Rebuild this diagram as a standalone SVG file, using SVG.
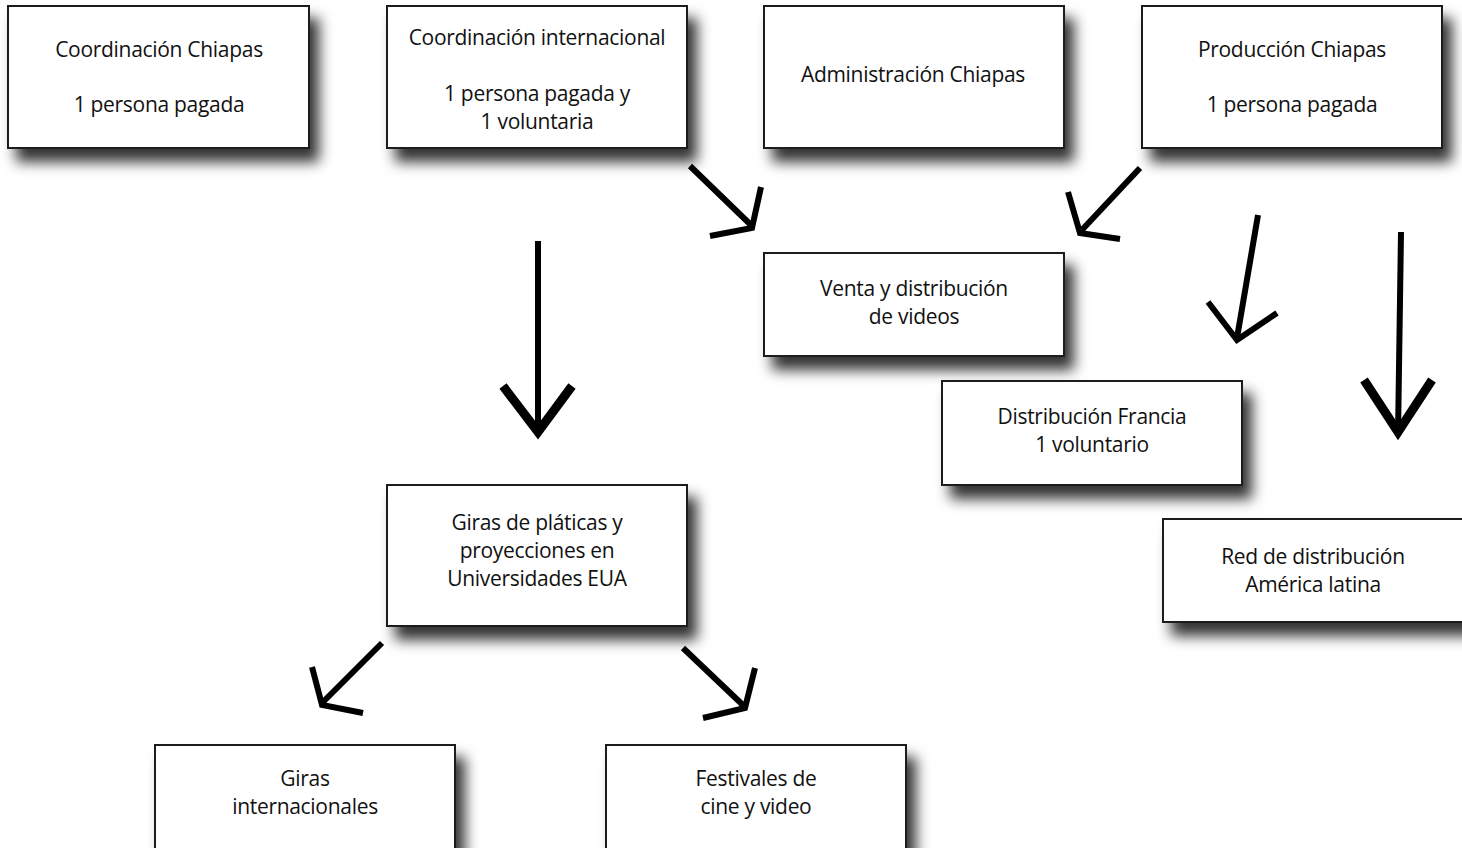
<svg xmlns="http://www.w3.org/2000/svg" width="1462" height="848" viewBox="0 0 1462 848">
<style>
.box{fill:#fff;stroke:#1a1a1a;stroke-width:2;filter:url(#sh)}
.t{font-family:"Open Sans","Liberation Sans",sans-serif;font-size:21px;fill:#111;text-anchor:middle;letter-spacing:-0.3px}
.a{fill:none;stroke:#000;stroke-width:6}
.ah{fill:none;stroke:#000;stroke-width:6;stroke-linejoin:miter}
.bh{fill:none;stroke:#000;stroke-width:9;stroke-linejoin:miter}
</style>
<defs>
<filter id="sh" x="-10%" y="-20%" width="130%" height="170%">
<feDropShadow dx="9" dy="13" stdDeviation="7" flood-color="#000" flood-opacity="0.8"/>
</filter>
</defs>
<rect width="1462" height="848" fill="#fff"/>
<g id="n1"><rect class="box" x="8" y="6" width="301" height="142"/><text class="t" x="159" y="57">Coordinación Chiapas</text><text class="t" x="159" y="112">1 persona pagada</text></g>
<g id="n2"><rect class="box" x="387" y="6" width="300" height="142"/><text class="t" x="537" y="45">Coordinación internacional</text><text class="t" x="537" y="101">1 persona pagada y</text><text class="t" x="537" y="129">1 voluntaria</text></g>
<g id="n3"><rect class="box" x="764" y="6" width="300" height="142"/><text class="t" x="913" y="82">Administración Chiapas</text></g>
<g id="n4"><rect class="box" x="1142" y="6" width="300" height="142"/><text class="t" x="1292" y="57">Producción Chiapas</text><text class="t" x="1292" y="112">1 persona pagada</text></g>
<g id="n5"><rect class="box" x="764" y="253" width="300" height="103"/><text class="t" x="914" y="296">Venta y distribución</text><text class="t" x="914" y="324">de videos</text></g>
<g id="n6"><rect class="box" x="942" y="381" width="300" height="104"/><text class="t" x="1092" y="424">Distribución Francia</text><text class="t" x="1092" y="452">1 voluntario</text></g>
<g id="n7"><rect class="box" x="1163" y="519" width="310" height="103"/><text class="t" x="1313" y="564">Red de distribución</text><text class="t" x="1313" y="592">América latina</text></g>
<g id="n8"><rect class="box" x="387" y="485" width="300" height="141"/><text class="t" x="537" y="530">Giras de pláticas y</text><text class="t" x="537" y="558">proyecciones en</text><text class="t" x="537" y="586">Universidades EUA</text></g>
<g id="n9"><rect class="box" x="155" y="745" width="300" height="120"/><text class="t" x="305" y="786">Giras</text><text class="t" x="305" y="814">internacionales</text></g>
<g id="n10"><rect class="box" x="606" y="745" width="300" height="120"/><text class="t" x="756" y="786">Festivales de</text><text class="t" x="756" y="814">cine y video</text></g>
<g id="connectors">
<line class="a" x1="690" y1="166" x2="752" y2="226"/><polyline class="ah" points="761,187 752,228 710,236"/>
<line class="a" x1="1140" y1="168" x2="1080" y2="232"/><polyline class="ah" points="1068,192 1080,233 1120,239"/>
<line class="a" x1="1258" y1="215" x2="1237" y2="338"/><polyline class="ah" points="1208,302 1237,340 1277,313"/>
<line class="a" x1="1401" y1="232" x2="1398" y2="436"/><polyline class="bh" points="1364,380 1398,432 1432,380"/>
<line class="a" x1="538" y1="241" x2="538" y2="436"/><polyline class="bh" points="503,386 538,432 572,386"/>
<line class="a" x1="382" y1="643" x2="322" y2="703"/><polyline class="ah" points="312,667 322,705 363,713"/>
<line class="a" x1="683" y1="648" x2="745" y2="707"/><polyline class="ah" points="755,668 745,708 703,718"/>
</g>
</svg>
